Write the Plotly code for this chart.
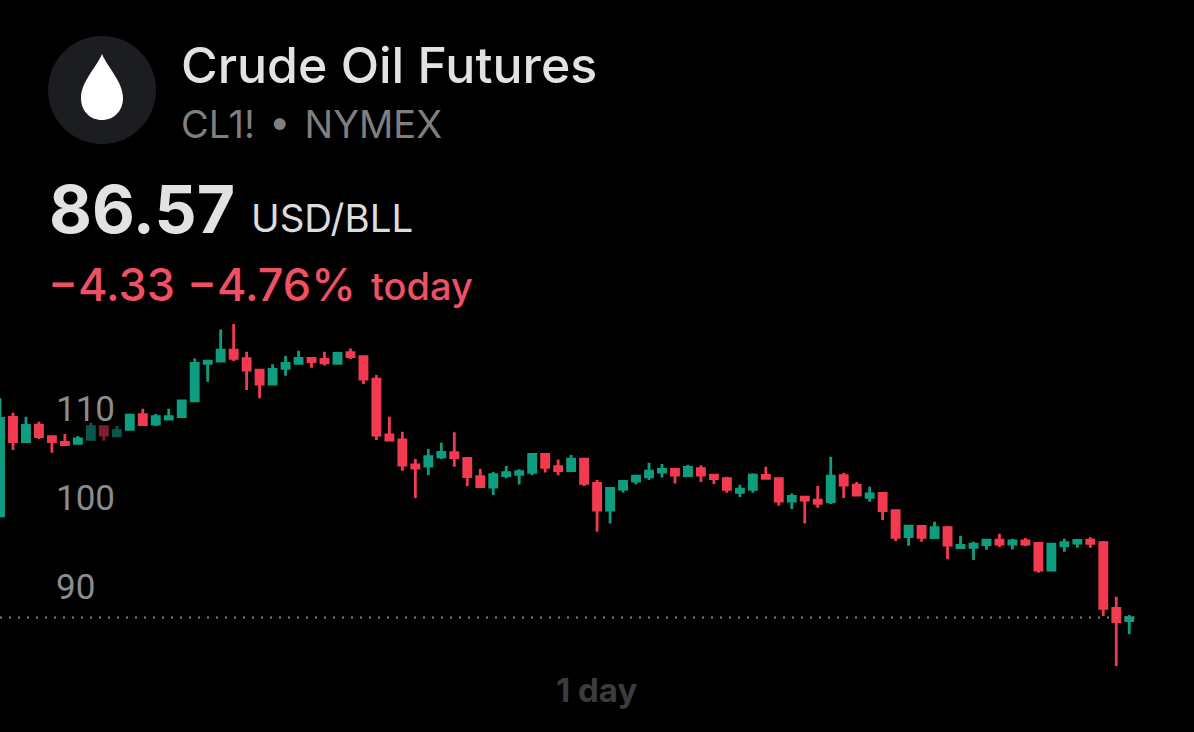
import plotly.graph_objects as go

W, H = 1194, 732

index = list(range(88))
opens = [98.01,109.06,106.33,108.20,106.89,106.25,106.14,106.59,108.01,107.00,107.71,109.36,108.31,108.87,109.14,110.93,
         115.13,115.39,116.63,115.65,114.38,112.81,114.57,115.13,115.69,115.58,115.13,116.33,115.88,113.37,107.08,106.52,
         103.71,103.59,104.64,105.09,104.45,102.40,101.23,102.51,102.66,102.88,104.90,103.52,103.07,104.38,101.64,98.65,
         101.01,101.91,102.39,102.92,103.22,102.51,103.29,102.58,102.17,100.63,100.97,102.54,102.17,99.66,100.11,99.77,
         99.58,102.51,101.46,100.08,100.52,98.58,95.66,96.82,95.54,96.67,94.42,94.46,94.76,95.28,94.83,95.17,
         94.91,91.91,94.64,94.94,95.28,94.98,87.60,86.23]
highs = [111.20,109.59,109.14,108.57,106.96,107.19,106.96,108.46,108.09,108.09,109.51,110.03,109.44,110.03,110.93,115.69,
         115.43,118.95,119.55,116.44,114.45,115.02,115.95,116.55,115.69,116.44,116.44,116.81,115.99,113.82,109.14,107.45,
         104.38,105.50,106.22,107.38,104.45,103.26,102.92,103.59,103.22,104.90,104.90,104.34,104.83,104.38,102.02,101.19,
         101.94,102.47,103.97,103.82,103.22,103.74,103.67,102.69,102.39,101.49,102.77,103.52,102.21,100.52,100.11,101.34,
         104.64,102.84,101.79,101.27,100.52,98.65,96.93,96.97,97.34,96.85,95.77,95.09,95.43,96.00,95.43,95.51,
         94.91,94.83,95.43,95.36,95.58,95.17,88.92,86.86]
lows = [98.01,105.39,106.33,106.63,105.09,105.84,105.99,106.59,106.44,106.96,107.71,108.20,108.09,108.84,109.14,110.93,
        113.07,115.39,115.39,112.13,111.20,112.81,113.74,115.13,114.64,114.90,115.02,115.62,112.81,106.52,106.52,103.07,
        100.00,102.55,104.38,103.52,101.35,101.27,100.34,102.21,101.53,102.55,102.88,102.55,102.96,101.35,96.21,97.15,
        100.63,101.53,102.02,102.32,101.64,102.47,101.79,101.57,100.60,100.11,100.60,102.17,99.14,98.76,97.15,98.91,
        99.32,100.00,100.30,99.59,97.53,95.17,94.65,95.09,95.54,93.11,94.42,93.03,94.20,94.50,94.23,94.61,
        91.61,91.91,93.97,94.42,94.42,86.74,81.13,84.68]
closes = [108.95,106.33,108.16,106.89,106.33,105.99,106.63,108.01,107.08,107.56,109.32,108.24,109.14,109.14,110.90,115.13,
          115.39,116.63,115.69,114.38,112.81,114.45,115.13,115.69,115.32,115.20,116.25,115.88,113.37,107.08,106.52,103.71,
          103.37,104.64,105.13,104.53,102.40,101.27,102.62,102.84,102.96,104.90,103.44,103.07,104.38,101.64,98.65,101.08,
          101.87,102.47,103.03,103.22,102.58,103.44,102.58,102.17,100.97,101.01,102.58,102.21,99.66,100.18,99.77,99.40,
          102.47,101.46,100.33,100.45,98.58,95.58,96.85,95.58,96.67,94.72,94.68,94.83,95.28,94.83,95.17,94.83,
          91.91,94.83,94.98,95.24,94.91,87.60,86.11,86.56]

# Candles lying under the "110" label look dimmed in the reference
dimmed = [7, 8, 9]
last_price = 86.57
price_ticks = [90, 100, 110]

GREEN, RED = "#0f9d80", "#f23a50"
DIM_GREEN, DIM_RED = "#0a5648", "#7e1f2e"


def pick(values, keep):
    return [values[i] for i in keep]


normal = [i for i in index if i not in dimmed]


def candles(keep, up, down):
    return go.Candlestick(
        x=keep, open=pick(opens, keep), high=pick(highs, keep),
        low=pick(lows, keep), close=pick(closes, keep),
        increasing=dict(line=dict(color=up, width=2.8), fillcolor=up),
        decreasing=dict(line=dict(color=down, width=2.8), fillcolor=down),
        whiskerwidth=0, showlegend=False, hoverinfo="skip",
    )


fig = go.Figure()
fig.add_trace(go.Scatter(
    x=[index[0], index[-1] + 0.4], y=[last_price, last_price], mode="lines",
    line=dict(color="#808080", width=2, dash="2px,7px"), showlegend=False, hoverinfo="skip",
))
fig.add_trace(candles(normal, GREEN, RED))
fig.add_trace(candles(dimmed, DIM_GREEN, DIM_RED))


def px(x):
    return x / W


def py(y):
    return 1 - y / H


def drop_path():
    pts = [("M", [(102, 54)]),
           ("C", [(96, 68), (81, 82), (81, 98)]),
           ("C", [(81, 111), (90, 120), (102, 120)]),
           ("C", [(114, 120), (123, 111), (123, 98)]),
           ("C", [(123, 82), (108, 68), (102, 54)])]
    return " ".join(c + " " + " ".join(f"{px(x):.5f},{py(y):.5f}" for x, y in p) for c, p in pts) + " Z"


shapes = [
    dict(type="circle", xref="paper", yref="paper", x0=px(48), x1=px(156), y0=py(36), y1=py(144),
         fillcolor="#1b1d21", line=dict(width=0), layer="above"),
    dict(type="path", xref="paper", yref="paper", path=drop_path(),
         fillcolor="#ffffff", line=dict(width=0), layer="above"),
]


def label(text, x, y, size, color, weight=400, anchor="left"):
    return dict(text=text, xref="paper", yref="paper", x=px(x), y=py(y), xanchor=anchor, yanchor="middle",
                showarrow=False, borderpad=0,
                font=dict(family="Inter, Roboto, sans-serif", size=size, color=color, weight=weight))


annotations = [
    label("Crude Oil Futures", 180, 65, 50, "#e2e2e2", 500),
    label("CL1! \u200a•\u200a NYMEX", 180, 124, 38, "#7f7f7f"),
    label("86.57", 48, 209, 66, "#e2e2e2", 700),
    label("USD/BLL", 250, 218, 38.5, "#dcdcdc"),
    label("−4.33 −4.76%", 47, 284, 45, "#ee5064", 500),
    label("today", 370, 286, 38, "#ee5064", 500),
    label("1 day", 596, 690, 33, "#3c3c3c", 700, "center"),
]

fig.update_layout(
    width=W, height=H, margin=dict(l=0, r=0, t=0, b=0),
    paper_bgcolor="#000000", plot_bgcolor="#000000",
    boxgap=0.22, showlegend=False, hovermode=False, dragmode=False,
    shapes=shapes, annotations=annotations,
    xaxis=dict(range=[0, W / 12.98], visible=False, rangeslider=dict(visible=False), fixedrange=True),
    yaxis=dict(range=[73.71, 155.96], tickvals=price_ticks, ticktext=[str(t) for t in price_ticks],
               ticklabelposition="inside", ticklabelstandoff=53, ticks="", showgrid=False, zeroline=False,
               showline=False, fixedrange=True,
               tickfont=dict(family="Roboto, sans-serif", size=35, color="#8c8c8c")),
)

fig.write_html("out.html", config=dict(displayModeBar=False, staticPlot=True),
               post_script="document.body.style.margin='0';document.body.style.background='#000';document.body.style.overflow='hidden';")
